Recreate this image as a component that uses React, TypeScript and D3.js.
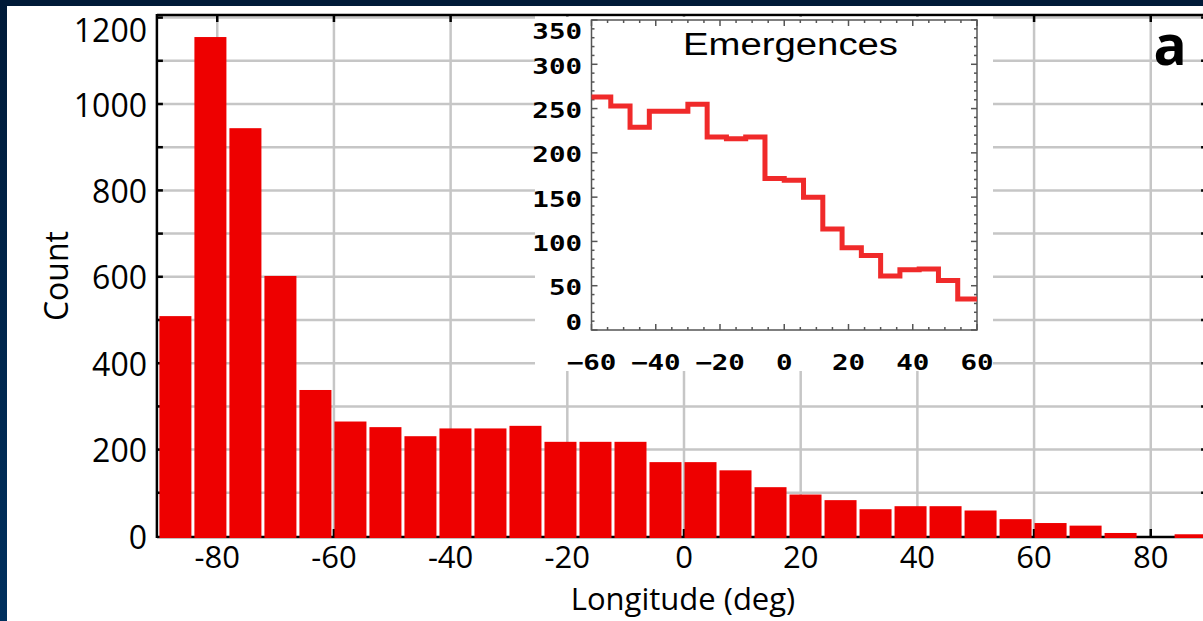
import React from "react";
import * as d3 from "d3";

// ---- Main histogram data (6-degree bins) ----
const binStarts = [-90, -84, -78, -72, -66, -60, -54, -48, -42, -36, -30, -24, -18, -12, -6, 0, 6, 12, 18, 24, 30, 36, 42, 48, 54, 60, 66, 72, 78, 84];
const counts = [509, 1155, 944, 602, 338, 265, 252, 231, 249, 249, 255, 218, 218, 218, 171, 171, 152, 113, 96, 83, 62, 69, 69, 59, 39, 30, 24, 7, 0, 4];
const binWidth = 6;

const xTicksMain = [-80, -60, -40, -20, 0, 20, 40, 60, 80];
const xGridMain = [-80, -60, -40, -20, 0, 20, 40, 60, 80];
const yTicksMain = [0, 200, 400, 600, 800, 1000, 1200];
const yGridMain = [100, 200, 300, 400, 500, 600, 700, 800, 900, 1000, 1100, 1200];

// ---- Inset (Emergences) data ----
const insetStarts = [-60, -54, -48, -42, -36, -30, -24, -18, -12, -6, 0, 6, 12, 18, 24, 30, 36, 42, 48, 54];
const insetCounts = [263, 253, 229, 247, 247, 255, 218, 216, 218, 171, 169, 150, 114, 93, 84, 61, 68, 69, 56, 35];
const insetXTicks = [-60, -40, -20, 0, 20, 40, 60];
const insetXMinor = [-55, -50, -45, -35, -30, -25, -15, -10, -5, 5, 10, 15, 25, 30, 35, 45, 50, 55];
const insetYTicks = [0, 50, 100, 150, 200, 250, 300, 350];
const insetYMinor = [10, 20, 30, 40, 60, 70, 80, 90, 110, 120, 130, 140, 160, 170, 180, 190, 210, 220, 230, 240, 260, 270, 280, 290, 310, 320, 330, 340];

const W = 1203;
const H = 621;

const fmtMinus = (v: number) => (v < 0 ? "\u2212" + Math.abs(v) : String(v));

export default function App() {
  const xMain = d3.scaleLinear().domain([-90, 90]).range([158.9, 1209.1]);
  const yMain = d3.scaleLinear().domain([0, 1200]).range([536, 17.6]);
  const xIn = d3.scaleLinear().domain([-60, 60]).range([591.5, 977]);
  const yIn = d3.scaleLinear().domain([0, 350]).range([330, 20]);

  const plotL = xMain(-90) - 2;
  const plotT = 15;
  const plotB = yMain(0) + 1;
  const plotR = xMain(90) - 2;

  const stepPts: [number, number][] = insetStarts.map((s, i) => [s, insetCounts[i]]);
  stepPts.push([insetStarts[insetStarts.length - 1] + binWidth, insetCounts[insetCounts.length - 1]]);
  const stepLine = d3
    .line<[number, number]>()
    .x((d) => xIn(d[0]))
    .y((d) => yIn(d[1]))
    .curve(d3.curveStepAfter);

  const mainFont = "'Open Sans', 'Noto Sans', sans-serif";
  const monoFont = "'DejaVu Sans Mono', monospace";

  return (
    <svg
      width={W}
      height={H}
      style={{ position: "absolute", left: 0, top: 0, display: "block" }}
      xmlns="http://www.w3.org/2000/svg"
    >
      <defs>
        <linearGradient id="navy" x1="0" y1="0" x2="0" y2="1">
          <stop offset="0" stopColor="#001a38" />
          <stop offset="1" stopColor="#00305e" />
        </linearGradient>
      </defs>
      <rect x={0} y={0} width={W} height={H} fill="#ffffff" />
      {/* navy frame */}
      <rect x={0} y={0} width={7} height={H} fill="url(#navy)" />
      <rect x={0} y={0} width={W} height={6} fill="#001a38" />

      {/* main grid */}
      <g stroke="#c6c6c6" strokeWidth={2.5}>
        {yGridMain.map((v) => (
          <line key={"gy" + v} x1={plotL} x2={W} y1={yMain(v)} y2={yMain(v)} />
        ))}
        {xGridMain.map((v) => (
          <line key={"gx" + v} x1={xMain(v)} x2={xMain(v)} y1={plotT} y2={plotB} />
        ))}
      </g>

      {/* main axes lines and ticks */}
      <g stroke="#000" strokeWidth={2.5}>
        <line x1={plotL} x2={plotL} y1={plotT - 1} y2={plotB + 1} />
        <line x1={plotL} x2={W} y1={plotT} y2={plotT} />
        <line x1={plotL} x2={W} y1={plotB} y2={plotB} />
        <line x1={plotR} x2={plotR} y1={plotT} y2={plotB} />
        {xTicksMain.map((v) => (
          <g key={"tx" + v}>
            <line x1={xMain(v)} x2={xMain(v)} y1={plotB} y2={plotB - 8} />
            <line x1={xMain(v)} x2={xMain(v)} y1={plotT} y2={plotT + 7} />
          </g>
        ))}
        {yGridMain.map((v) => (
          <g key={"ty" + v}>
            <line x1={plotL} x2={plotL + 6} y1={yMain(v)} y2={yMain(v)} />
            <line x1={plotR} x2={plotR - 6} y1={yMain(v)} y2={yMain(v)} />
          </g>
        ))}
      </g>

      {/* bars */}
      <g fill="#ee0000">
        {binStarts.map((s, i) =>
          counts[i] > 0 ? (
            <rect
              key={"b" + s}
              x={xMain(s) + 0.5}
              width={xMain(s + binWidth) - xMain(s) - 3}
              y={yMain(counts[i])}
              height={yMain(0) + 2 - yMain(counts[i])}
            />
          ) : null
        )}
      </g>

      {/* main tick labels */}
      <g fontFamily={mainFont} fontSize={32} fill="#000">
        {yTicksMain.map((v, i) => (
          <text
            key={"ly" + v}
            x={147}
            y={yMain(v) + (i === yTicksMain.length - 1 ? 12 : 0)}
            textAnchor="end"
            dominantBaseline="central"
          >
            {v}
          </text>
        ))}
      </g>
      <g fontFamily={mainFont} fontSize={31} fill="#000">
        {xTicksMain.map((v) => (
          <text key={"lx" + v} x={xMain(v)} y={568} textAnchor="middle">
            {String(v)}
          </text>
        ))}
        <text x={683} y={610} textAnchor="middle">
          Longitude (deg)
        </text>
        <text transform="translate(68,276) rotate(-90)" textAnchor="middle" fontSize={32}>
          Count
        </text>
      </g>
      <text x={1170} y={65} textAnchor="middle" fontFamily={mainFont} fontWeight={700} fontSize={55} fill="#000">
        a
      </text>

      {/* inset */}
      <rect x={535} y={plotT + 1.5} width={993 - 535} height={371 - plotT - 1.5} fill="#ffffff" />
      <g stroke="#555" strokeWidth={1.5}>
        <rect x={xIn(-60)} y={yIn(350)} width={xIn(60) - xIn(-60)} height={yIn(0) - yIn(350)} fill="none" />
        {insetXTicks.map((v) => (
          <g key={"ixt" + v}>
            <line x1={xIn(v)} x2={xIn(v)} y1={yIn(0)} y2={yIn(0) - 6} />
            <line x1={xIn(v)} x2={xIn(v)} y1={yIn(350)} y2={yIn(350) + 6} />
          </g>
        ))}
        {insetXMinor.map((v) => (
          <g key={"ixm" + v}>
            <line x1={xIn(v)} x2={xIn(v)} y1={yIn(0)} y2={yIn(0) - 3} />
            <line x1={xIn(v)} x2={xIn(v)} y1={yIn(350)} y2={yIn(350) + 3} />
          </g>
        ))}
        {insetYTicks.map((v) => (
          <g key={"iyt" + v}>
            <line x1={xIn(-60)} x2={xIn(-60) + 6} y1={yIn(v)} y2={yIn(v)} />
            <line x1={xIn(60)} x2={xIn(60) - 6} y1={yIn(v)} y2={yIn(v)} />
          </g>
        ))}
        {insetYMinor.map((v) => (
          <g key={"iym" + v}>
            <line x1={xIn(-60)} x2={xIn(-60) + 3} y1={yIn(v)} y2={yIn(v)} />
            <line x1={xIn(60)} x2={xIn(60) - 3} y1={yIn(v)} y2={yIn(v)} />
          </g>
        ))}
      </g>
      <path d={stepLine(stepPts) || ""} fill="none" stroke="#f02a2a" strokeWidth={5} strokeLinejoin="miter" />

      <g fontFamily={monoFont} fontWeight={700} fontSize={22} fill="#000">
        {insetYTicks.map((v, i) => {
          const dy = i === 0 ? -8 : i === insetYTicks.length - 1 ? 11 : 2;
          return (
            <text
              key={"iyl" + v}
              transform={`translate(582,${yIn(v) + dy}) scale(1.25,1)`}
              textAnchor="end"
              dominantBaseline="central"
            >
              {v}
            </text>
          );
        })}
        {insetXTicks.map((v) => (
          <text
            key={"ixl" + v}
            transform={`translate(${xIn(v)},${370}) scale(1.25,1)`}
            textAnchor="middle"
          >
            {fmtMinus(v)}
          </text>
        ))}
      </g>
      <text
        x={683}
        y={55}
        fontFamily="'Liberation Sans', Arial, sans-serif"
        fontSize={31}
        textLength={215}
        lengthAdjust="spacingAndGlyphs"
        fill="#000"
      >
        Emergences
      </text>
    </svg>
  );
}
